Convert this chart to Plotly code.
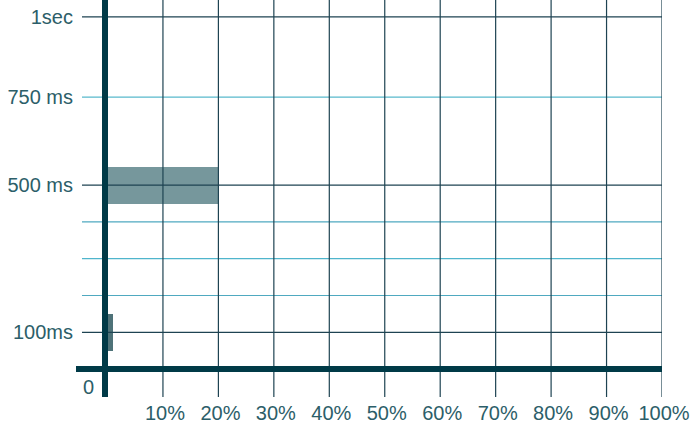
import plotly.graph_objects as go

# data
latency_ms = [100, 500]
share_pct = [1.0, 20.0]
bar_colors = ["#4e7278", "#76979c"]

x_ticks = [10, 20, 30, 40, 50, 60, 70, 80, 90, 100]
x_labels = ["10%", "20%", "30%", "40%", "50%", "60%", "70%", "80%", "90%", "100%"]

y_ticks = [100, 500, 739, 957]
y_labels = ["100ms", "500 ms", "750 ms", "1sec"]

# horizontal rules: (value, colour)
h_lines = [(100, "#1e4352"), (200, "#4fa9c0"), (300, "#4fb5cc"), (400, "#4fa9c0"),
           (500, "#1e4352"), (739, "#59b9cc"), (957, "#1e4352")]

dark = "#003a47"
txt = "#2c5e69"
fsize = 20

fig = go.Figure()
fig.add_trace(go.Bar(y=latency_ms, x=share_pct, base=0, orientation="h",
                     width=100, marker=dict(color=bar_colors, line_width=0),
                     hoverinfo="skip"))

shapes = []
for v, c in h_lines:
    shapes.append(dict(type="line", xref="x", yref="y", x0=-4.6, x1=100, y0=v, y1=v,
                       line=dict(color=c, width=1.2), layer="above"))
for v in x_ticks:
    shapes.append(dict(type="line", xref="x", yref="paper", x0=v, x1=v, y0=0, y1=1,
                       line=dict(color="#1e4352", width=1.2), layer="above"))
# heavy axes
shapes.append(dict(type="line", xref="x", yref="y", x0=-5.7, x1=100, y0=0, y1=0,
                   line=dict(color=dark, width=6), layer="above"))
shapes.append(dict(type="line", xref="x", yref="paper", x0=-0.45, x1=-0.45, y0=0, y1=1,
                   line=dict(color=dark, width=6), layer="above"))

fig.update_layout(
    width=700, height=423,
    margin=dict(l=76, r=38, t=0, b=26),
    plot_bgcolor="white", paper_bgcolor="white",
    showlegend=False,
    bargap=0,
    font=dict(family="Liberation Sans, Arial, sans-serif", size=fsize, color=txt),
    xaxis=dict(range=[-5.68, 100], tickvals=x_ticks, ticktext=x_labels,
               showgrid=False, zeroline=False, showline=False, ticks="",
               automargin=False, ticklabelshift=2, ticklabelstandoff=2,
               tickfont=dict(size=fsize, color=txt)),
    yaxis=dict(range=[-75.8, 1003], tickvals=y_ticks, ticktext=y_labels,
               showgrid=False, zeroline=False, showline=False, ticks="",
               automargin=False, ticklabelstandoff=2, tickfont=dict(size=fsize, color=txt)),
    shapes=shapes,
    annotations=[dict(x=-3.5, y=-48, xref="x", yref="y", text="0", showarrow=False,
                      font=dict(size=fsize, color=txt))],
)

fig.write_html("out.html", config={"displayModeBar": False},
               post_script="document.body.style.margin='0';")
